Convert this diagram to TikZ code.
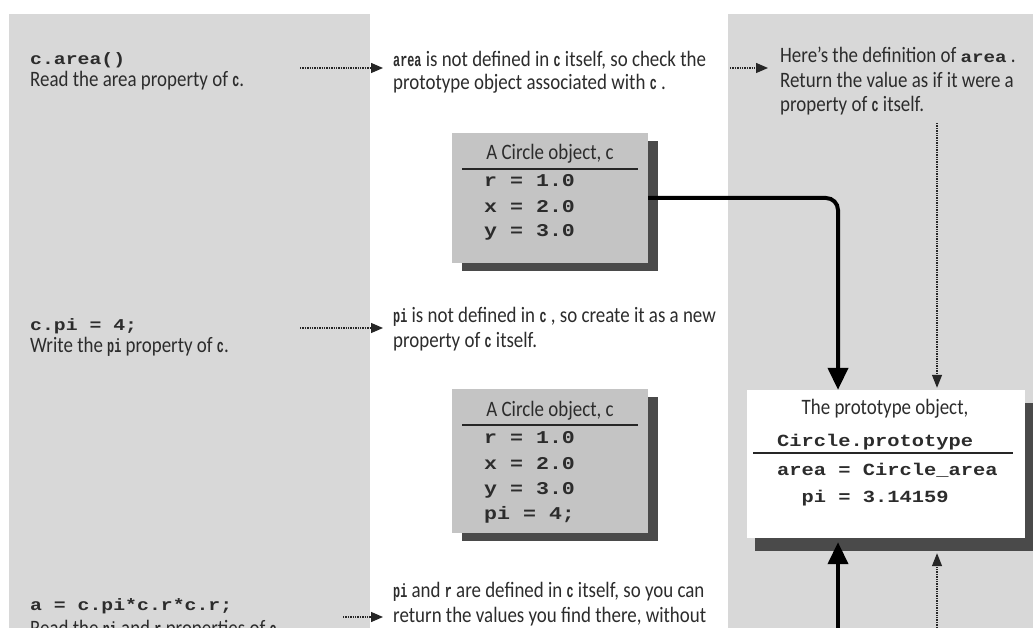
\documentclass[tikz,border=0pt]{standalone}
\usepackage{fontspec}
\setmainfont{Carlito}[FakeStretch=0.86]
\newfontfamily\codefont{Liberation Mono}[FakeStretch=1.2]
\newfontfamily\inlinefont{Liberation Mono}[FakeStretch=0.62]
\usetikzlibrary{arrows.meta,shadows}
\definecolor{bggray}{HTML}{D8D8D8}
\definecolor{boxgray}{HTML}{C4C4C4}
\definecolor{shadowgray}{HTML}{4A4A4A}
\definecolor{ink}{HTML}{2C2C2C}
\newcommand\ic[1]{{\inlinefont\bfseries\fontsize{19}{19}\selectfont #1}}
\newcommand\bc[1]{{\codefont\bfseries\fontsize{16}{16}\selectfont #1}}
\tikzset{
  txt/.style={anchor=base west, inner sep=0pt, text=ink, font=\fontsize{22}{24}\selectfont},
  ctxt/.style={anchor=base, inner sep=0pt, text=ink, font=\fontsize{22}{24}\selectfont},
  lcode/.style={anchor=base west, inner sep=0pt, text=ink, font=\codefont\bfseries\fontsize{16.5}{20}\selectfont},
  bcode/.style={anchor=base west, inner sep=0pt, text=ink, font=\codefont\bfseries\fontsize{18}{20}\selectfont},
  pcode/.style={anchor=base west, inner sep=0pt, text=ink, font=\codefont\bfseries\fontsize{17}{20}\selectfont},
  objbox/.style={draw=none, fill=boxgray, minimum width=196pt, inner sep=0pt,
    drop shadow={shadow xshift=10pt, shadow yshift=-8pt, fill=shadowgray, opacity=1}},
  protobox/.style={draw=none, fill=white, minimum width=278pt, minimum height=148pt, inner sep=0pt,
    drop shadow={shadow xshift=8pt, shadow yshift=-13pt, fill=shadowgray, opacity=1}},
  rule/.style={line width=2.2pt, draw=black!85},
  dotarrow/.style={line width=1.3pt, draw=black!85, dash pattern=on 1.4pt off 1pt,
    -{Triangle[length=12pt,width=10pt]}},
  bigarrow/.style={line width=4pt, draw=black, -{Triangle[length=22pt,width=20pt]}},
}
\begin{document}
\begin{tikzpicture}[x=1pt,y=-1pt]
\useasboundingbox (0,0) rectangle (1033,628);
\clip (0,0) rectangle (1033,628);
% columns
\fill[white] (0,0) rectangle (1033,628);
\fill[bggray] (9,14) rectangle (370,628);
\fill[bggray] (728,14) rectangle (1033,628);

% left column
\node[lcode] (l1a) at (30,65) {c.area()};
\node[txt] (l1b) at (30,87) {Read the area property of \ic{c}.};
\node[lcode] (l2a) at (30,330) {c.pi = 4;};
\node[txt] (l2b) at (30,352) {Write the \ic{pi} property of \ic{c}.};
\node[lcode] (l3a) at (30,610) {a = c.pi*c.r*c.r;};
\node[txt] (l3b) at (30,635) {Read the \ic{pi} and \ic{r} properties of \ic{c}.};

% middle column
\node[txt] (m1a) at (393,67) {\ic{area} is not defined in \ic{c} itself, so check the};
\node[txt] (m1b) at (393,90) {prototype object associated with \ic{c} .};
\node[txt] (m2a) at (393,322) {\ic{pi} is not defined in \ic{c} , so create it as a new};
\node[txt] (m2b) at (393,347) {property of \ic{c} itself.};
\node[txt] (m3a) at (393,597) {\ic{pi} and \ic{r} are defined in \ic{c} itself, so you can};
\node[txt] (m3b) at (393,622) {return the values you find there, without};

% right column
\node[txt] (r1a) at (780,63) {Here’s the definition of \bc{area} .};
\node[txt] (r1b) at (780,88) {Return the value as if it were a};
\node[txt] (r1c) at (780,112) {property of \ic{c} itself.};

% object box 1
\node[objbox, minimum height=130pt] (b1) at (550,198) {};
\node[ctxt] (b1t) at (550,160) {A Circle object, c};
\draw[rule] (462,169) coordinate (b1l) -- (638,169) coordinate (b1r);
\node[bcode] (b1r1) at (484,187) {r = 1.0};
\node[bcode] (b1r2) at (484,213) {x = 2.0};
\node[bcode] (b1r3) at (484,237) {y = 3.0};

% object box 2
\node[objbox, minimum height=144pt] (b2) at (550,461) {};
\node[ctxt] (b2t) at (550,416) {A Circle object, c};
\draw[rule] (462,425) coordinate (b2l) -- (638,425) coordinate (b2r);
\node[bcode] (b2r1) at (484,443) {r = 1.0};
\node[bcode] (b2r2) at (484,469) {x = 2.0};
\node[bcode] (b2r3) at (484,494) {y = 3.0};
\node[bcode] (b2r4) at (484,519) {pi = 4;};

% prototype box
\node[protobox] (proto) at (886,464) {};
\node[ctxt] (pt1) at (885,414) {The prototype object,};
\node[pcode] (pt2) at (777,446) {Circle.prototype};
\draw[line width=2.5pt, draw=black!85] (753,453) coordinate (pl) -- (1013,453) coordinate (pr);
\node[pcode] (pt3) at (777,475) {area = Circle\_area};
\node[pcode] (pt4) at (777,502) {\ \ pi = 3.14159};

% horizontal arrows
\coordinate (a1s) at (300,68);
\draw[dotarrow, shorten >=10pt] (a1s) -- (a1s -| m1a.west);
\coordinate (a2s) at (730,68);
\draw[dotarrow, shorten >=12pt] (a2s) -- (a2s -| r1a.west);
\coordinate (a3s) at (300,328);
\draw[dotarrow, shorten >=10pt] (a3s) -- (a3s -| m2a.west);
\coordinate (a4s) at (343,617);
\draw[dotarrow, shorten >=10pt] (a4s) -- (a4s -| m3b.west);

% vertical connectors
\coordinate (pin1) at ([xshift=-48pt]proto.north);
\coordinate (pin2) at ([xshift=51pt]proto.north);
\coordinate (pout1) at ([xshift=-48pt]proto.south);
\coordinate (pout2) at ([xshift=51pt]proto.south);
\draw[bigarrow, rounded corners=12pt] (b1.east) -| (pin1);
\coordinate (d1s) at (937,123);
\draw[dotarrow, -{Triangle[length=13pt,width=10pt]}] (d1s) -- ([yshift=2pt]pin2);
\coordinate (u1s) at (838,640);
\draw[bigarrow] (u1s) -- ([yshift=-4pt]pout1);
\coordinate (u2s) at (937,640);
\draw[dotarrow, -{Triangle[length=13pt,width=10pt]}] (u2s) -- ([yshift=-15pt]pout2);
\end{tikzpicture}
\end{document}
